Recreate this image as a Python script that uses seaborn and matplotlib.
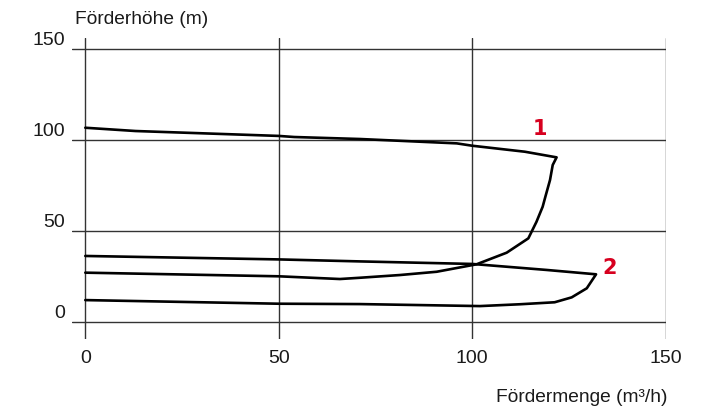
import matplotlib
matplotlib.use("Agg")
import matplotlib.pyplot as plt
import seaborn as sns
import pandas as pd

# ---- data ----
curve1_q = [0, 13, 50, 54, 71, 96, 100, 113.6, 121.8, 120.8, 120.1, 118.9, 118.2, 116.6, 114.5, 108.9, 101.1, 90.8, 81.3, 71, 65.8, 50, 0]
curve1_h = [106.8, 105, 102.3, 101.7, 100.6, 98.2, 96.9, 93.6, 90.5, 86.3, 78, 68.8, 63.3, 55, 45.9, 38, 31.6, 27.5, 25.7, 24.2, 23.5, 25, 27]
curve2_q = [0, 50, 71, 100, 119.2, 132, 129.6, 125.7, 121.3, 112.3, 102, 71, 50, 0]
curve2_h = [36.2, 34.3, 33.2, 31.8, 28.5, 26.1, 18.4, 13.4, 10.7, 9.6, 8.6, 9.7, 9.9, 11.9]
curve_labels = ["1", "2"]
label_pos_q = [117.5, 135.6]
label_pos_h = [106.0, 29.5]
x_ticks = [0, 50, 100, 150]
y_ticks = [0, 50, 100, 150]
x_label = "Fördermenge (m³/h)"
y_label = "Förderhöhe (m)"

rows = []
for name, qs, hs in [("1", curve1_q, curve1_h), ("2", curve2_q, curve2_h)]:
    for i, (q, h) in enumerate(zip(qs, hs)):
        rows.append({"curve": name, "order": i, "q": q, "h": h})
df = pd.DataFrame(rows)

sns.set_style("white")
plt.rcParams["font.family"] = ["Liberation Sans", "DejaVu Sans"]

fig = plt.figure(figsize=(7.15, 4.12), dpi=100)
xmin, xmax = -3.4, 150
ymin, ymax = -9.4, 156.2
pxx = (665.7 - 85.3) / 150
pxy = (321.7 - 49.3) / 150
left = 85.3 + xmin * pxx
right = 665.7
bottom_px = 321.7 - ymin * pxy
top_px = 49.3 - (ymax - 150) * pxy
ax = fig.add_axes([left / 715, (412 - bottom_px) / 412, (right - left) / 715, (bottom_px - top_px) / 412])

sns.lineplot(data=df, x="q", y="h", units="curve", estimator=None, sort=False,
             color="black", lw=1.9, ax=ax, legend=False)

ax.set_xlim(xmin, xmax)
ax.set_ylim(ymin, ymax)
ax.set_xticks(x_ticks)
ax.set_yticks(y_ticks)
ax.grid(True, color="#333333", lw=1.0)
ax.set_axisbelow(True)
for s in ax.spines.values():
    s.set_visible(False)
ax.tick_params(length=0, labelsize=14, colors="#1a1a1a")
ax.tick_params(axis="y", pad=5)
ax.tick_params(axis="x", pad=8)
for lab in ax.get_yticklabels():
    lab.set_verticalalignment("bottom")
ax.set_xlabel("")
ax.set_ylabel("")

fig.text(75 / 715, 1 - 20 / 412, y_label, fontsize=13.8, ha="left", va="center", color="#1a1a1a")
fig.text(668 / 715, 1 - 398 / 412, x_label, fontsize=13.8, ha="right", va="center", color="#1a1a1a")

for lab, q, h in zip(curve_labels, label_pos_q, label_pos_h):
    ax.text(q, h, lab, color="#d7001f", fontsize=15, fontweight="heavy",
            family=["DejaVu Sans"], ha="center", va="center")

fig.savefig("out.png", dpi=100)
